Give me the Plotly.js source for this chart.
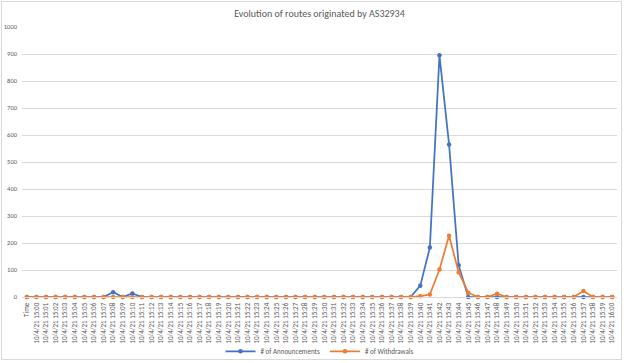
<!DOCTYPE html>
<html>
<head>
<meta charset="utf-8">
<script src="https://cdn.plot.ly/plotly-3.0.1.min.js"></script>
<style>
  html, body { margin: 0; padding: 0; background: #ffffff; }
  #wrap { position: relative; width: 624px; height: 363px; }
  #chart { width: 624px; height: 363px; }
  #border { position: absolute; left: 1px; top: 1px; width: 619px; height: 357px; border: 1px solid #d9d9d9; pointer-events: none; }
</style>
</head>
<body>
<div id="wrap"><div id="chart"></div><div id="border"></div></div>
<script>
const categories = [
  "Time",
  "10/4/21 15:00","10/4/21 15:01","10/4/21 15:02","10/4/21 15:03","10/4/21 15:04",
  "10/4/21 15:05","10/4/21 15:06","10/4/21 15:07","10/4/21 15:08","10/4/21 15:09",
  "10/4/21 15:10","10/4/21 15:11","10/4/21 15:12","10/4/21 15:13","10/4/21 15:14",
  "10/4/21 15:15","10/4/21 15:16","10/4/21 15:17","10/4/21 15:18","10/4/21 15:19",
  "10/4/21 15:20","10/4/21 15:21","10/4/21 15:22","10/4/21 15:23","10/4/21 15:24",
  "10/4/21 15:25","10/4/21 15:26","10/4/21 15:27","10/4/21 15:28","10/4/21 15:29",
  "10/4/21 15:30","10/4/21 15:31","10/4/21 15:32","10/4/21 15:33","10/4/21 15:34",
  "10/4/21 15:35","10/4/21 15:36","10/4/21 15:37","10/4/21 15:38","10/4/21 15:39",
  "10/4/21 15:40","10/4/21 15:41","10/4/21 15:42","10/4/21 15:43","10/4/21 15:44",
  "10/4/21 15:45","10/4/21 15:46","10/4/21 15:47","10/4/21 15:48","10/4/21 15:49",
  "10/4/21 15:50","10/4/21 15:51","10/4/21 15:52","10/4/21 15:53","10/4/21 15:54",
  "10/4/21 15:55","10/4/21 15:56","10/4/21 15:57","10/4/21 15:58","10/4/21 15:59",
  "10/4/21 16:00"
];

// # of Announcements (Time, 15:00 ... 16:00)
const announcements = [
  0,
  0,0,0,0,0, 0,0,0,18,0,
  13,0,0,0,0, 0,0,0,0,0,
  0,0,0,0,0, 0,0,0,0,0,
  0,0,0,0,0, 0,0,0,0,0,
  42,183,895,565,118, 0,0,0,0,0,
  0,0,0,0,0, 0,0,0,0,0,
  0
];

// # of Withdrawals (Time, 15:00 ... 16:00)
const withdrawals = [
  0,
  0,0,0,0,0, 0,0,0,0,0,
  0,0,0,0,0, 0,0,0,0,0,
  0,0,0,0,0, 0,0,0,0,0,
  0,0,0,0,0, 0,0,0,0,0,
  3,9,102,227,92, 16,0,0,12,0,
  0,0,0,0,0, 0,0,22,0,0,
  0
];

const yTicks = [0,100,200,300,400,500,600,700,800,900,1000];

const FONT = 'Carlito, Calibri, "Liberation Sans Narrow", "Liberation Sans", sans-serif';
const GREY = '#595959';

const traces = [
  {
    type: 'scatter', mode: 'lines+markers', name: '# of Announcements',
    x: categories, y: announcements,
    line: { color: '#4472C4', width: 1.75 },
    marker: { color: '#4472C4', size: 4.5, symbol: 'circle' },
    cliponaxis: false
  },
  {
    type: 'scatter', mode: 'lines+markers', name: '# of Withdrawals',
    x: categories, y: withdrawals,
    line: { color: '#ED7D31', width: 1.75 },
    marker: { color: '#ED7D31', size: 4.5, symbol: 'circle' },
    cliponaxis: false
  }
];

const layout = {
  width: 624, height: 363,
  margin: { l: 22, r: 7, t: 26.5, b: 65.5, pad: 0, autoexpand: false },
  paper_bgcolor: 'rgba(0,0,0,0)', plot_bgcolor: 'rgba(0,0,0,0)',
  font: { family: FONT, color: GREY, size: 7 },
  title: {
    text: 'Evolution of routes originated by AS32934',
    font: { family: FONT, size: 10, color: GREY },
    x: 0.5, xanchor: 'center', xref: 'paper',
    y: 1 - 13/363, yanchor: 'middle', yref: 'container'
  },
  xaxis: {
    type: 'category', range: [-0.5, categories.length - 0.5],
    tickangle: -90, tickfont: { family: FONT, size: 7, color: GREY },
    showgrid: false, showline: true, linecolor: '#d9d9d9', linewidth: 1,
    ticks: '', zeroline: false, fixedrange: true, automargin: false,
    ticklabelstandoff: 2
  },
  yaxis: {
    range: [0, 1000], tickvals: yTicks, ticktext: yTicks.map(String),
    tickfont: { family: FONT, size: 6.5, color: GREY },
    showgrid: true, gridcolor: '#d9d9d9', gridwidth: 1,
    zeroline: false, showline: false, ticks: '', ticklabelstandoff: 4,
    fixedrange: true, automargin: false
  },
  showlegend: true,
  legend: {
    orientation: 'h', x: 0.5, xanchor: 'center',
    y: (297.5 - 352) / 271, yanchor: 'middle',
    font: { family: FONT, size: 7, color: GREY },
    itemwidth: 30, tracegroupgap: 0, bgcolor: 'rgba(0,0,0,0)'
  },
  hovermode: false
};

Plotly.newPlot('chart', traces, layout, { displayModeBar: false, staticPlot: true });
</script>
</body>
</html>
